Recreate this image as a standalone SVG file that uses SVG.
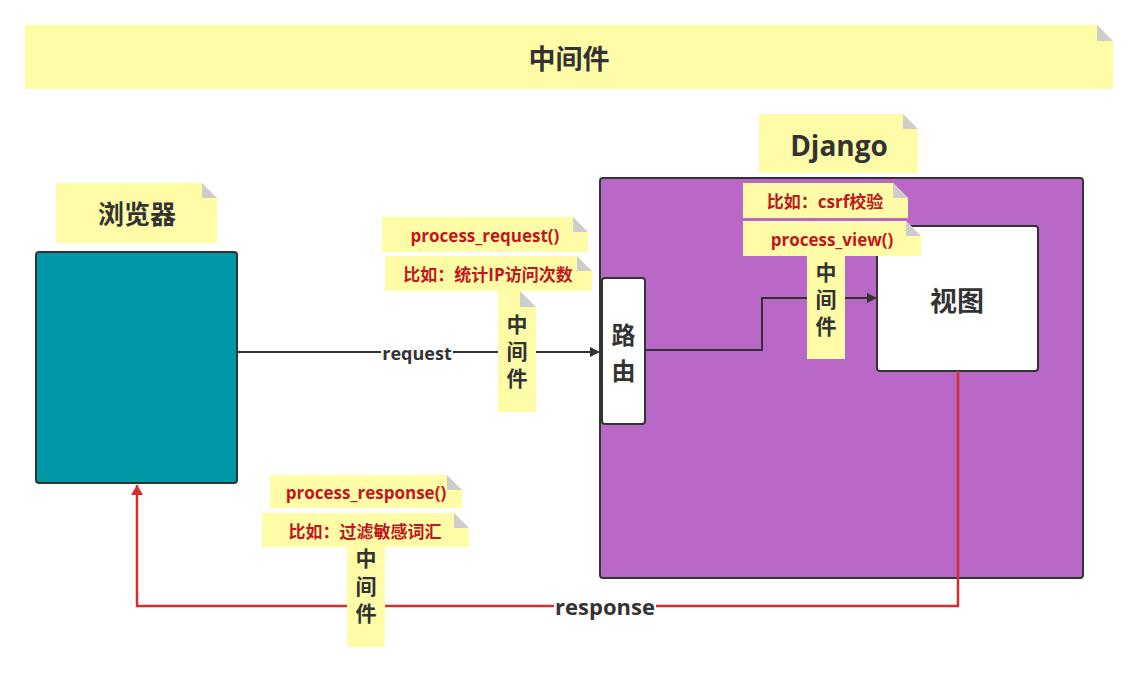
<svg xmlns="http://www.w3.org/2000/svg" width="1139" height="673" viewBox="0 0 1139 673">
<defs>
<style>
.note{fill:#FFFCA8}
.fold{fill:#CDCDCD}
.t{font-family:"Open Sans","Noto Sans CJK SC",sans-serif;font-weight:bold;fill:#333333;text-anchor:middle;dominant-baseline:central}
.r{font-family:"Open Sans","Noto Sans CJK SC",sans-serif;font-weight:bold;fill:#C0181E;text-anchor:middle;dominant-baseline:central;font-size:17px}
.v{font-size:21px}
.box{stroke:#333333;stroke-width:2}
.line{fill:none;stroke:#333333;stroke-width:2}
.rline{fill:none;stroke:#D32F2F;stroke-width:2.5}
</style>
<marker id="ah" viewBox="0 0 10 10" refX="10" refY="5" markerWidth="10" markerHeight="10" markerUnits="userSpaceOnUse" orient="auto"><path d="M0,0 L10,5 L0,10 Z" fill="#333333"/></marker>
<marker id="rah" viewBox="0 0 10 12" refX="10" refY="6" markerWidth="13" markerHeight="12" markerUnits="userSpaceOnUse" orient="auto"><path d="M0,0 L10,6 L0,12 Z" fill="#D32F2F"/></marker>
</defs>
<rect width="1139" height="673" fill="#FFFFFF"/>

<g id="title">
<polygon class="note" points="25,25 1097,25 1113,41 1113,89 25,89"/>
<polygon class="fold" points="1097,25 1097,41 1113,41"/>
<text class="t" x="569" y="58" font-size="27">中间件</text>
</g>

<g id="django">
<rect class="box" x="600" y="178" width="483" height="400" rx="3" fill="#BA68C8"/>
</g>

<g id="django-label">
<polygon class="note" points="759,114 903,114 918,129 918,173 759,173"/>
<polygon class="fold" points="903,114 903,129 918,129"/>
<text class="t" x="839" y="145" font-size="28">Django</text>
</g>

<g id="browser-label">
<polygon class="note" points="56,183 202,183 217,198 217,243 56,243"/>
<polygon class="fold" points="202,183 202,198 217,198"/>
<text class="t" x="137" y="214" font-size="26">浏览器</text>
</g>

<g id="browser">
<rect class="box" x="36" y="252" width="201" height="231" rx="3" fill="#0097A7"/>
</g>

<g id="router">
<rect class="box" x="602" y="278" width="43" height="146" rx="3" fill="#FFFFFF"/>
<text class="t" x="623.5" y="334" font-size="24">路</text>
<text class="t" x="623.5" y="370" font-size="24">由</text>
</g>

<g id="view">
<rect class="box" x="877" y="226" width="161" height="145" rx="3" fill="#FFFFFF"/>
<text class="t" x="957" y="300" font-size="27">视图</text>
</g>

<g id="connectors">
<path class="line" d="M237,352 L600,352" marker-end="url(#ah)"/>
<rect x="381" y="342" width="72" height="22" fill="#FFFFFF"/>
<text class="t" x="417" y="353" font-size="18">request</text>
<path class="line" d="M645,350 L762,350 L762,298 L877,298" marker-end="url(#ah)"/>
<path class="rline" d="M958,371 L958,606 L137,606 L137,485" marker-end="url(#rah)"/>
<rect x="554" y="594" width="102" height="24" fill="#FFFFFF"/>
<text class="t" x="605" y="606" font-size="22">response</text>
</g>

<g id="mw-request">
<polygon class="note" points="382,217 573,217 588,232 588,252 382,252"/>
<polygon class="fold" points="573,217 573,232 588,232"/>
<text class="r" x="485" y="235">process_request()</text>
<polygon class="note" points="385,256 577,256 592,271 592,291 385,291"/>
<polygon class="fold" points="577,256 577,271 592,271"/>
<text class="r" x="488" y="274">比如：统计IP访问次数</text>
<polygon class="note" points="498,291 520,291 536,307 536,412 498,412"/>
<polygon class="fold" points="520,291 520,307 536,307"/>
<text class="t v" x="517" y="324">中</text>
<text class="t v" x="517" y="351">间</text>
<text class="t v" x="517" y="378">件</text>
</g>

<g id="mw-view">
<polygon class="note" points="743,183 893,183 908,198 908,218 743,218"/>
<polygon class="fold" points="893,183 893,198 908,198"/>
<text class="r" x="825" y="201">比如：csrf校验</text>
<polygon class="note" points="807,256 845,256 845,359 807,359"/>
<text class="t v" x="826" y="272">中</text>
<text class="t v" x="826" y="299">间</text>
<text class="t v" x="826" y="326">件</text>
<polygon class="note" points="743,221 906,221 921,236 921,256 743,256"/>
<polygon class="fold" points="906,221 906,236 921,236"/>
<text class="r" x="832" y="239">process_view()</text>
</g>

<g id="mw-response">
<polygon class="note" points="270,475 447,475 462,490 462,508 270,508"/>
<polygon class="fold" points="447,475 447,490 462,490"/>
<text class="r" x="366" y="492">process_response()</text>
<polygon class="note" points="262,513 454,513 469,528 469,547 262,547"/>
<polygon class="fold" points="454,513 454,528 469,528"/>
<text class="r" x="365" y="531">比如：过滤敏感词汇</text>
<polygon class="note" points="347,547 385,547 385,647 347,647"/>
<text class="t v" x="366" y="558">中</text>
<text class="t v" x="366" y="586">间</text>
<text class="t v" x="366" y="613">件</text>
</g>
</svg>
